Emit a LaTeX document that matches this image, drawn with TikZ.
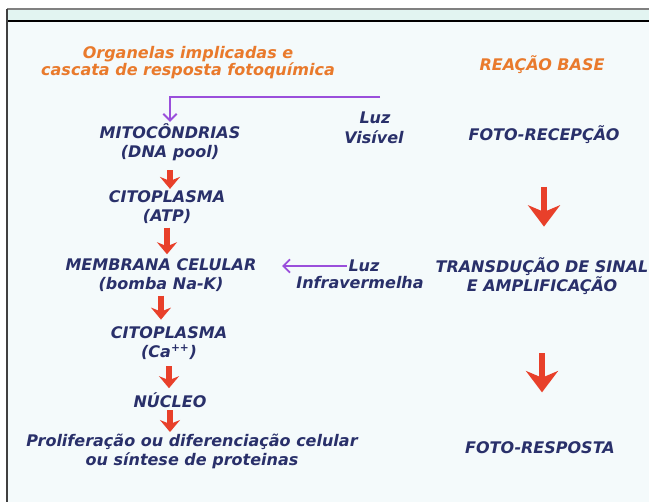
\documentclass[tikz,border=0pt]{standalone}
\usepackage{fontspec}
\setsansfont{DejaVu Sans}
\usetikzlibrary{arrows.meta}
\definecolor{azul}{HTML}{29306A}
\definecolor{laranja}{HTML}{E97A2C}
\definecolor{vermelho}{HTML}{E8402A}
\definecolor{roxo}{HTML}{9A4FDB}
\definecolor{fundo}{HTML}{F4FAFB}
\definecolor{faixa}{HTML}{E2F4F1}
\tikzset{
  rotulo/.style={font=\sffamily\bfseries\itshape\fontsize{12}{14.2}\selectfont, text=azul, align=center, inner sep=1pt},
  titulo/.style={rotulo, text=laranja, font=\sffamily\bfseries\itshape\fontsize{12}{12.8}\selectfont},
  seta/.style={draw=vermelho, line width=4pt, -{Stealth[width=15pt,length=9pt,inset=3pt]}},
  setagrande/.style={draw=vermelho, line width=5pt, -{Stealth[width=24pt,length=16pt,inset=5pt]}},
  luz/.style={draw=roxo, line width=1.4pt, -{Straight Barb[length=5pt,width=10pt]}}
}
\begin{document}
\begin{tikzpicture}[x=0.75pt, y=-0.75pt]
    \useasboundingbox (0, 0) rectangle (649, 502);
    \fill[fundo] (7, 9) rectangle (649, 502);
    \fill[faixa] (7, 9) rectangle (649, 21);
    \draw[gray, line width=1pt] (7, 9) -- (649, 9);
    \draw[black, line width=1.6pt] (7, 21) -- (649, 21);
    \draw[darkgray, line width=1.2pt] (7, 9) -- (7, 502);

    \node[titulo] (titulo) at (188, 63) {Organelas implicadas e\\cascata de resposta fotoquímica};
    \node[titulo] (base) at (542, 65) {REAÇÃO BASE};

    \node[rotulo] (mito) at (170, 142) {MITOCÔNDRIAS\\(DNA pool)};
    \node[rotulo] (cito1) at (167, 207) {CITOPLASMA\\(ATP)};
    \node[rotulo] (memb) at (161, 275) {MEMBRANA CELULAR\\(bomba Na-K)};
    \node[rotulo] (cito2) at (169, 343) {CITOPLASMA\\(Ca\textsuperscript{++})};
    \node[rotulo] (nucleo) at (170, 400) {NÚCLEO};
    \node[rotulo] (prolif) at (192, 451) {Proliferação ou diferenciação celular\\ou síntese de proteinas};

    \node[rotulo] (luzvis) at (375, 118) {Luz};
    \node[rotulo] (visivel) at (374, 137) {Visível};
    \node[rotulo] (luzir) at (364, 266) {Luz};
    \node[rotulo] (infra) at (360, 283) {Infravermelha};

    \node[rotulo] (recep) at (544, 135) {FOTO-RECEPÇÃO};
    \node[rotulo] (trans) at (542, 276) {TRANSDUÇÃO DE SINAL\\E AMPLIFICAÇÃO};
    \node[rotulo] (resp) at (540, 448) {FOTO-RESPOSTA};

    \coordinate (visin) at (380, 97);
    \draw[luz] (visin) -| (mito.north);
    \draw[luz, shorten >=18pt] (luzir.west) -- (luzir.west -| memb.east);

    \draw[seta, shorten <=6pt] (mito.south) -- (mito.south |- cito1.north);
    \draw[seta, shorten <=2pt, shorten >=2pt] (cito1.south) -- (cito1.south |- memb.north);
    \draw[seta, shorten <=2pt, shorten >=4pt] (memb.south) -- (memb.south |- cito2.north);
    \draw[seta, shorten <=4pt, shorten >=2pt] (cito2.south) -- (cito2.south |- nucleo.north);
    \draw[seta, shorten <=1pt] (nucleo.south) -- (nucleo.south |- prolif.north);

    \draw[setagrande, shorten <=31pt, shorten >=22pt] (recep) -- (recep |- trans.north);
    \draw[setagrande, shorten <=43pt, shorten >=36pt] (trans.south) -- (trans.south |- resp.north);
\end{tikzpicture}
\end{document}
